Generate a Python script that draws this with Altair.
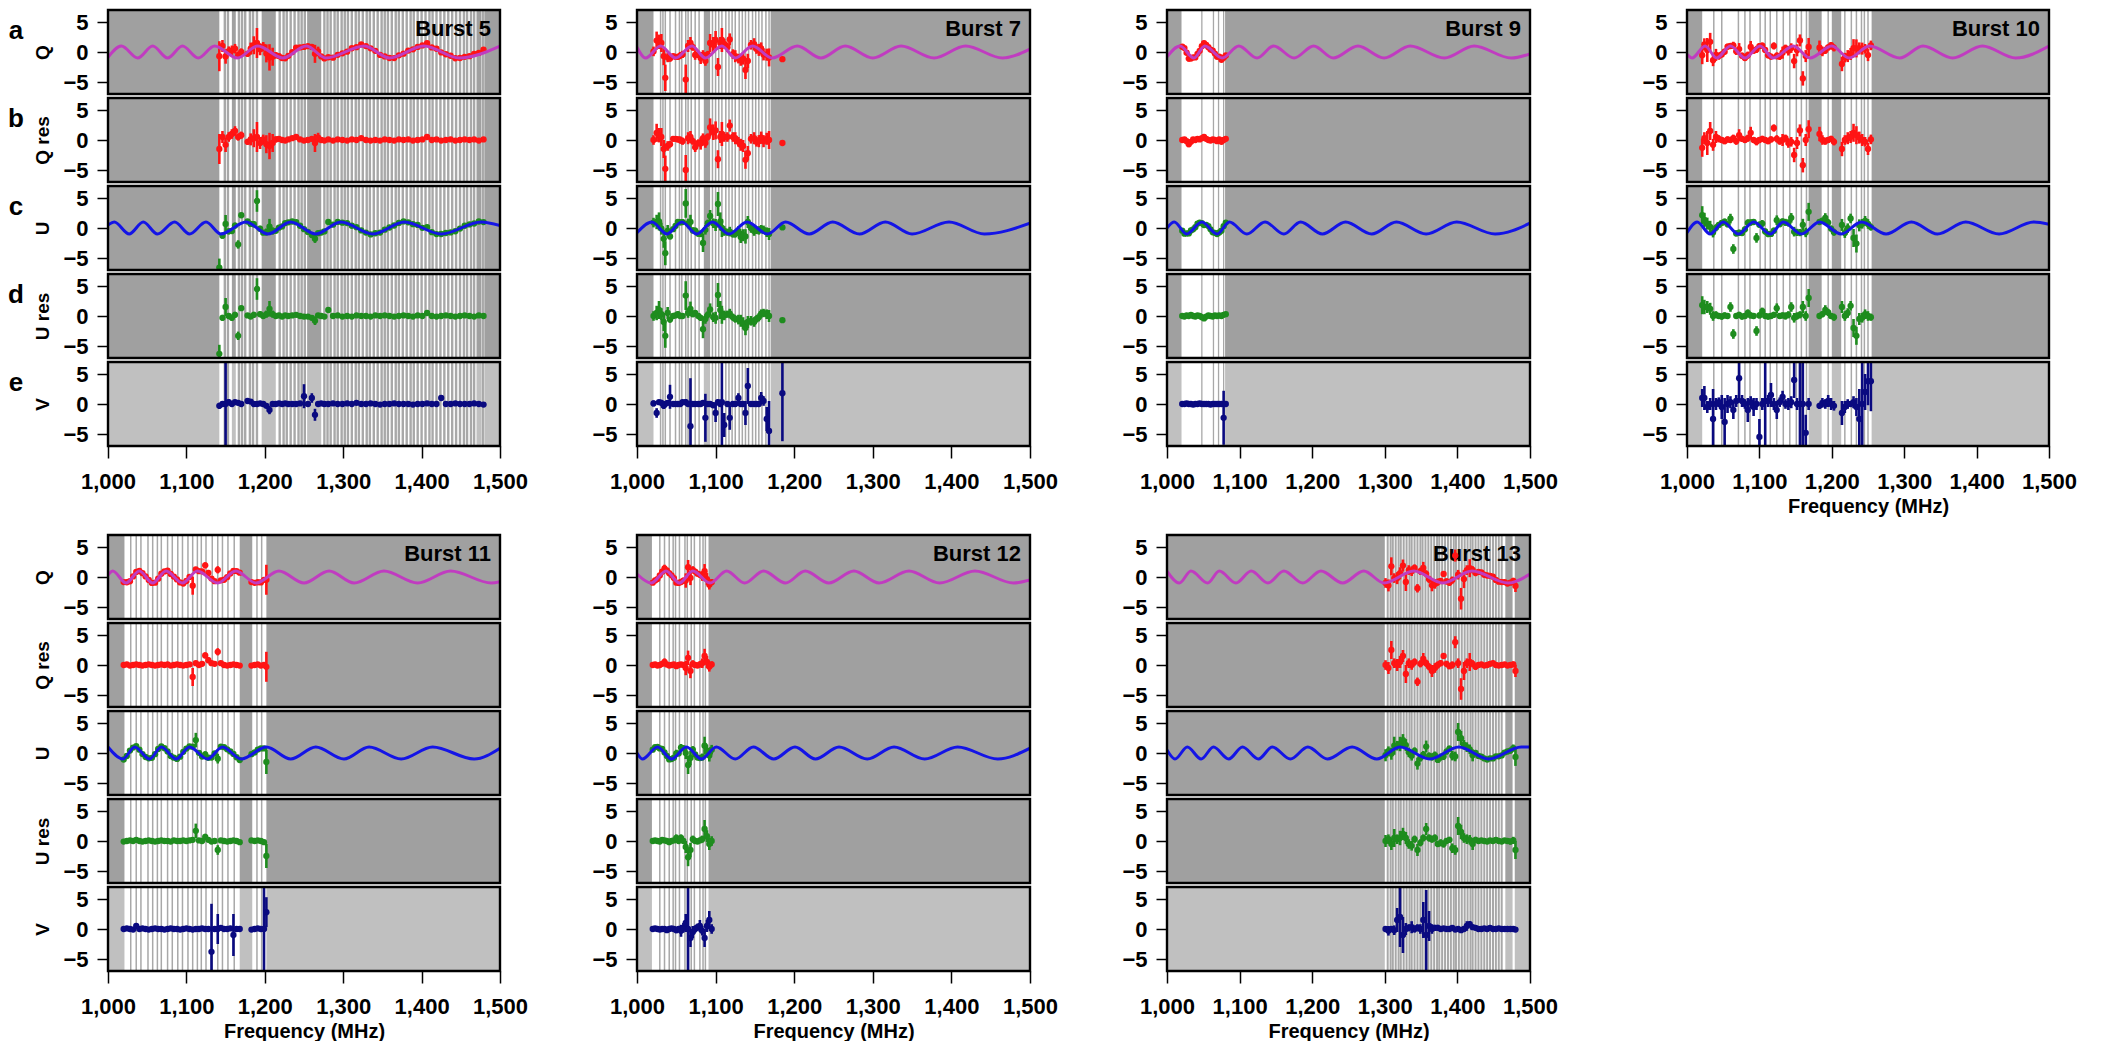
import altair as alt
import pandas as pd

# ---------------- data ----------------
# Burst 5
B5_f = [1142,1146,1150,1154,1158,1162,1166,1170,
        1178,1182,1186,1190,1194,1198,1202,1206,1210,1214,1218,1222,
        1226,1230,1235,1240,1245,1250,1255,1260,1264,1268,1272,1276,
        1281,1287,1293,1299,1305,1311,1317,1323,1329,1335,
        1341,1347,1353,1359,1365,1371,1377,1383,1389,1395,
        1401,1407,1413,1419,1425,1431,1437,1443,1449,1455,
        1461,1467,1473,1479]
B5_Q = [-0.7,1.0,-0.75,0.13,0.28,0.55,-0.5,0.0,
        -0.3,0.56,1.12,1.5,0.46,0.87,-0.23,-0.9,-0.79,-0.54,-0.68,-1.0,
        -1.05,-0.64,-0.01,0.71,0.77,0.85,0.97,0.84,-0.31,0.09,-0.73,-1.07,
        -0.88,-0.94,-0.47,-0.22,0.06,0.62,0.8,1.27,0.98,0.61,
        0.2,-0.48,-0.73,-1.0,-1.01,-0.55,-0.28,0.24,0.44,0.84,
        1.09,1.46,0.77,0.54,-0.07,-0.37,-0.62,-1.04,-1.0,-0.81,
        -0.7,-0.31,-0.16,0.39]
B5_Qres = [-1.5,0.5,-0.8,0.5,1.0,1.5,0.5,0.8,
           -0.3,0.1,0.3,0.5,-0.5,0.1,-0.7,-1.0,-0.5,0.1,0.2,0.0,
           -0.1,0.1,0.3,0.5,0.1,-0.1,0.0,0.2,-0.5,0.4,0.0,-0.1,
           0.1,-0.1,0.1,0.0,-0.1,0.1,0.0,0.3,0.0,-0.1,
           0.0,-0.1,0.1,0.0,-0.1,0.1,0.0,0.1,-0.1,0.0,
           0.1,0.5,0.0,0.1,-0.1,0.0,0.1,-0.1,0.0,0.1,
           0.0,0.1,-0.1,0.1]
B5_eQ = [2.5,1.0,1.2,0.8,0.8,0.8,0.6,0.6,
         0.5,1.0,1.5,2.5,1.0,0.8,1.5,2.2,1.5,0.5,0.4,0.4,
         0.3,0.3,0.3,0.4,0.3,0.3,0.3,0.4,1.5,0.8,0.3,0.3,
         0.3,0.3,0.3,0.3,0.3,0.3,0.3,0.3,0.3,0.3,
         0.3,0.3,0.3,0.3,0.3,0.3,0.3,0.3,0.3,0.3,
         0.3,0.4,0.3,0.3,0.3,0.3,0.3,0.3,0.3,0.3,
         0.3,0.3,0.3,0.3]
B5_U = [-6.6,-1.28,0.67,-0.56,-0.5,0.4,-2.74,2.13,
        1.08,0.68,0.63,4.5,-0.13,-0.78,-0.68,0.22,-0.5,-0.47,0.05,0.27,
        0.82,0.95,1.08,0.97,0.38,-0.2,-0.66,-1.18,-1.79,-0.86,-0.77,-0.57,
        1.0,0.56,1.02,0.89,0.82,0.38,0.14,-0.41,-0.77,-1.07,
        -0.87,-0.76,-0.28,0.08,0.42,0.85,1.1,0.94,0.64,0.52,
        0.03,0.14,-0.7,-1.02,-1.0,-0.83,-0.74,-0.54,-0.09,0.38,
        0.6,0.75,1.08,0.99]
B5_Ures = [-6.3,-0.3,1.5,0.0,-0.3,0.2,-3.3,1.3,
           0.1,-0.1,0.2,4.5,0.3,0.0,0.3,1.2,0.3,0.0,0.1,-0.1,
           0.1,0.0,0.1,0.2,0.0,-0.1,-0.1,-0.3,-0.8,0.1,0.0,-0.1,
           1.0,0.0,0.1,-0.1,0.0,-0.1,0.1,0.0,0.0,-0.1,
           0.1,0.0,0.1,0.0,-0.1,0.0,0.1,0.0,-0.1,0.1,
           0.0,0.5,0.0,-0.1,0.0,0.1,0.0,-0.1,0.0,0.1,
           0.0,-0.1,0.1,0.0]
B5_eU = [1.5,0.5,1.5,0.5,0.5,0.5,0.7,0.4,
         0.4,0.4,0.5,1.8,0.5,0.4,0.6,1.3,0.6,0.4,0.3,0.3,
         0.3,0.3,0.3,0.3,0.3,0.3,0.3,0.4,0.7,0.4,0.3,0.3,
         0.4,0.3,0.3,0.3,0.3,0.3,0.3,0.3,0.3,0.3,
         0.3,0.3,0.3,0.3,0.3,0.3,0.3,0.3,0.3,0.3,
         0.3,0.4,0.3,0.3,0.3,0.3,0.3,0.3,0.3,0.3,
         0.3,0.3,0.3,0.3]
B5_V = [-0.3,0.0,0.0,0.3,0.0,0.3,0.2,0.0,
        0.5,0.4,0.0,0.0,0.1,0.0,-0.3,-1.0,0.0,0.0,0.1,0.0,
        0.1,0.0,0.0,0.0,0.1,1.3,0.0,1.0,-1.8,0.0,0.1,0.0,
        0.0,0.1,0.0,0.0,0.1,0.0,0.2,0.0,0.0,0.1,
        0.0,-0.1,0.0,0.0,0.1,0.0,0.0,0.0,-0.1,0.0,
        0.0,0.1,0.0,0.0,1.0,0.0,0.0,0.1,0.0,0.0,
        0.0,0.1,0.0,-0.1]
B5_eV = [0.5,0.4,8.0,0.5,0.4,0.4,0.4,0.3,
         0.4,0.4,0.3,0.3,0.3,0.3,0.3,0.7,0.3,0.3,0.3,0.3,
         0.3,0.3,0.3,0.3,0.3,2.0,0.3,0.8,1.0,0.3,0.3,0.3,
         0.3,0.3,0.3,0.3,0.3,0.3,0.3,0.3,0.3,0.3,
         0.3,0.3,0.3,0.3,0.3,0.3,0.3,0.3,0.3,0.3,
         0.3,0.3,0.3,0.3,0.4,0.3,0.3,0.3,0.3,0.3,
         0.3,0.3,0.3,0.3]
B5_Qmodel = [(1000,-0.9),(1017,1),(1038,-1),(1057,1),(1076,-1),(1095,1),(1115,-1),(1136,1),(1165,-1),
             (1191,1),(1223,-1),(1253,1),(1278,-1),(1327,1),(1359,-1),(1403,1),(1448,-1),(1500,1)]
B5_Umodel = [(1000,0.5),(1008,1),(1027,-1),(1045,1),(1063,-1),(1085,1),(1104,-1),(1125,1),(1144,-1),
             (1176,1),(1204,-1),(1233,1),(1265,-1),(1297,1),(1338,-1),(1378,1),(1425,-1),(1476,1),(1500,0.4)]
B5_white = [(1142,1480)]
B5_grayband = [(1158,1163),(1196,1214),(1254,1272),(1470,1476)]
B5_grayline = [1149,1153,1167,1171,1175,1181,1185,1190,1219,1224,1228,1233,1238,1243,1247,1251,
               1276,1280,1284,1289,1293,1298,1302,1306,1311,1316,1320,1325,1330,1334,1339,1344,
               1349,1353,1357,1362,1367,1371,1376,1381,1386,1390,1395,1400,1405,1410,1414,1419,
               1424,1429,1434,1439,1444,1449,1454,1458,1463,1467,1478]
B5_linewidth = 2.4

# Burst 7
B7_f = [1021,1025,1028,1031,1034,1036,1039,1042,1046,1049,
        1052,1055,1058,1062,1065,1068,1071,1074,1078,1081,
        1084,1087,1090,1093,1097,1100,1103,1106,1108,1111,
        1115,1118,1122,1125,1129,1132,1135,1138,1141,1145,
        1149,1152,1155,1158,1161,1165,1168,1185]
B7_Q = [0.1,1.9,1.7,1.5,-0.7,-4.3,-0.9,-1.1,-0.7,-0.8,
        -0.8,-0.6,-0.4,-4.6,1.0,1.5,0.8,-0.5,-0.4,-1.0,
        -0.5,-1.5,-0.4,1.5,1.2,2.0,-2.5,1.5,2.0,1.35,
        0.8,2.1,-0.35,-0.7,-1.1,-1.3,-1.1,-3.0,-1.5,1.2,
        1.3,0.5,0.35,0.6,-0.4,-0.45,-0.9,-1.2]
B7_Qres = [0.0,1.2,0.8,0.5,-1.5,-4.8,-1.0,-0.7,0.2,0.2,
           0.1,0.0,-0.2,-5.0,0.3,0.5,-0.2,-1.2,-0.5,-0.6,
           0.3,-0.5,0.5,2.1,1.3,1.6,-3.2,0.5,1.0,0.5,
           0.5,2.4,0.5,0.3,-0.3,-0.8,-1.0,-3.3,-2.2,0.2,
           0.3,-0.3,-0.2,0.4,-0.2,0.2,0.0,-0.5]
B7_eQ = [0.8,1.5,1.2,1.5,1.5,2.2,0.8,0.5,0.4,0.4,
         0.5,0.6,0.6,2.5,1.0,1.0,0.6,0.8,0.6,1.0,
         0.8,0.8,0.6,1.5,1.3,1.5,1.5,1.0,2.0,0.8,
         0.8,1.0,0.8,1.0,0.8,1.0,1.0,1.5,1.2,0.8,
         1.0,0.8,1.0,1.0,1.0,1.0,1.5,0.3]
B7_U = [0.9,1.0,1.1,-0.1,-1.8,-4.2,-0.5,-1.4,-0.2,0.35,
        1.0,0.95,0.99,4.1,0.75,1.0,-0.4,-0.45,-0.95,-1.0,
        -2.5,-0.3,0.8,2.0,0.8,0.5,4.0,1.1,0.0,-0.5,
        -0.7,-0.6,-1.0,-1.0,-0.5,-1.5,-1.2,-1.4,1.0,0.0,
        -0.5,-0.4,-0.4,-0.2,-0.3,-0.7,-1.0,0.1]
B7_Ures = [0.0,0.5,1.0,0.3,-1.0,-3.3,0.5,-0.6,0.0,0.1,
           0.3,0.0,0.0,3.4,0.5,1.2,0.3,0.5,0.0,-0.3,
           -2.2,-0.5,0.2,1.1,-0.2,-0.3,3.5,1.0,0.2,0.1,
           0.3,0.4,-0.2,-0.5,-0.6,-0.8,-1.2,-2.0,-1.0,-0.8,
           -1.0,-0.5,-0.2,0.4,0.5,0.3,0.0,-0.7]
B7_eU = [0.8,1.2,1.5,1.0,1.5,2.0,1.0,0.5,0.4,0.4,
         0.5,0.5,0.5,2.4,0.8,1.2,0.5,0.5,0.5,0.5,
         1.5,0.8,0.6,1.0,0.8,1.0,2.0,1.5,1.5,0.8,
         0.6,0.8,0.6,0.6,0.8,1.0,1.0,1.2,1.0,0.8,
         0.8,0.6,0.7,0.7,0.7,0.8,1.0,0.3]
B7_V = [0.1,-1.5,0.3,0.2,-0.3,0.0,0.2,1.2,0.0,0.0,
        0.0,0.0,0.3,0.3,0.0,-3.7,0.0,0.0,0.0,0.0,
        0.2,-2.3,0.0,0.0,-0.2,-1.5,0.3,0.0,0.3,-3.5,
        0.0,-2.3,0.0,0.0,1.0,0.0,0.0,-1.5,3.0,0.0,
        0.0,0.0,0.0,1.0,0.5,-2.5,-4.5,1.8]
B7_eV = [0.5,0.8,0.4,0.5,0.5,0.5,0.4,2.0,0.3,0.3,
         0.3,0.3,0.4,0.5,0.4,8.0,0.3,0.4,0.4,0.4,
         0.4,4.0,0.4,0.4,0.5,1.5,0.5,0.5,8.0,2.0,
         0.5,2.0,0.5,0.5,0.8,0.5,0.5,2.0,3.0,0.5,
         0.5,0.5,0.5,1.0,0.8,2.0,5.0,8.0]
B7_Qmodel = [(1000,0.8),(1011,-1),(1030,1),(1049,-1),(1070,1),(1087,-1),(1108,1),(1125,-1),(1147,1),
             (1172,-1),(1204,1),(1234,-1),(1265,1),(1300,-1),(1336,1),(1378,-1),(1418,1),(1465,-1),(1500,0.5)]
B7_Umodel = [(1000,-0.8),(1019,1),(1038,-1),(1057,1),(1076,-1),(1096,1),(1117,-1),(1140,1),(1166,-1),
             (1189,1),(1219,-1),(1249,1),(1283,-1),(1316,1),(1350,-1),(1397,1),(1442,-1),(1500,0.8)]
B7_white = [(1021,1170)]
B7_grayband = [(1085,1093)]
B7_grayline = [1030,1033,1036,1042,1049,1054,1057,1062,1065,1069,1074,1079,1096,1100,1104,1108,
               1113,1117,1121,1125,1130,1134,1138,1142,1147,1151,1155,1159,1164,1168]
B7_linewidth = 1.5

# Burst 9
B9_f = [1021,1024,1027,1030,1033,1036,1039,1042,1045,1048,1051,1054,1057,1060,1063,1066,1069,1072,1075,1078,1081]
B9_Q = [0.88,0.65,-0.12,-1.1,-1.09,-0.89,-0.91,-0.3,0.2,0.97,1.48,1.17,0.8,0.4,0.23,-0.26,-0.81,-0.77,-1.29,-0.96,-0.58]
B9_Qres = [0.0,0.1,-0.2,-0.7,-0.3,0.1,0.0,0.2,0.1,0.3,0.5,0.2,0.0,-0.1,0.1,0.0,-0.2,0.1,-0.3,0.0,0.2]
B9_eQ = [0.3,0.3,0.3,0.5,0.3,0.3,0.3,0.3,0.3,0.3,0.4,0.3,0.3,0.3,0.3,0.3,0.3,0.3,0.3,0.3,0.3]
B9_U = [-0.44,-0.95,-0.9,-0.9,-0.42,-0.22,0.12,0.72,0.9,0.8,0.5,0.52,0.32,-0.22,-0.72,-0.8,-1.0,-0.75,-0.44,0.29,0.9]
B9_Ures = [0.0,-0.1,0.1,0.0,0.2,0.0,-0.1,0.1,0.0,-0.2,-0.4,-0.1,0.1,0.0,-0.1,0.1,0.0,0.1,0.0,0.2,0.3]
B9_eU = [0.3,0.3,0.3,0.3,0.3,0.3,0.3,0.3,0.3,0.3,0.3,0.3,0.3,0.3,0.3,0.3,0.3,0.3,0.3,0.3,0.3]
B9_V = [0.0,0.0,0.1,0.0,0.0,-0.1,0.0,0.0,0.1,0.0,0.0,0.0,0.0,-0.1,0.0,0.0,0.0,0.0,0.0,-2.3,0.0]
B9_eV = [0.3,0.3,0.3,0.3,0.3,0.3,0.3,0.3,0.3,0.3,0.3,0.3,0.3,0.3,0.3,0.3,0.3,0.3,0.3,4.5,0.3]
B9_Qmodel = [(1000,-0.8),(1018,1),(1037,-1),(1052,1),(1076,-1),(1099,1),(1124,-1),(1147,1),(1175,-1),
             (1202,1),(1229,-1),(1263,1),(1299,-1),(1335,1),(1382,-1),(1423,1),(1474,-1),(1500,-0.3)]
B9_Umodel = [(1000,0.0),(1010,1),(1027,-1),(1048,1),(1069,-1),(1086,1),(1110,-1),(1135,1),(1161,-1),
             (1184,1),(1214,-1),(1246,1),(1282,-1),(1316,1),(1357,-1),(1399,1),(1452,-1),(1500,0.8)]
B9_white = [(1020,1080)]
B9_grayband = []
B9_grayline = [1048,1064,1071,1078]
B9_linewidth = 1.3

# Burst 10
B10_f = [1021,1024,1028,1032,1036,1040,1044,1048,1052,1056,
         1060,1064,1068,1072,1076,1080,1084,1088,1092,1096,
         1100,1104,1108,1112,1116,1120,1124,1128,1132,1136,
         1140,1144,1148,1152,1156,1160,1164,1168,1183,1187,
         1191,1195,1199,1203,1214,1218,1222,1226,1230,1234,
         1238,1242,1246,1250,1254]
B10_Q = [-0.53,1.28,0.33,1.69,-1.36,-0.48,-0.68,-0.40,0.05,0.89,
         1.0,1.11,0.11,0.49,-0.61,-1.0,-0.53,0.84,0.22,0.43,
         0.99,1.07,0.34,-0.54,-0.77,1.01,-0.65,-0.73,-0.11,0.63,
         0.21,0.65,-1.51,0.28,1.93,-4.4,-0.68,0.84,0.71,0.1,
         0.27,0.77,1.16,0.69,-2.0,-0.94,-0.68,-0.33,0.64,0.6,
         0.6,0.56,0.53,-0.52,1.1]
B10_Qres = [-1.3,0.3,-0.5,1.5,-0.8,0.5,0.2,0.0,-0.2,0.1,
            0.0,0.3,-0.2,0.8,0.2,0.0,0.3,1.2,0.0,-0.3,
            0.0,0.2,0.0,-0.2,0.1,2.0,0.2,-0.2,0.0,0.3,
            -0.5,-0.3,-2.5,-0.5,1.6,-4.2,0.0,1.8,1.0,0.0,
            -0.2,0.0,0.2,-0.3,-1.5,0.0,0.3,0.5,1.2,0.8,
            0.4,0.0,-0.3,-1.5,0.1]
B10_eQ = [1.5,1.0,2.0,1.5,1.0,1.0,0.6,0.5,0.5,0.5,
          0.5,0.6,0.6,1.0,0.5,0.5,0.6,1.0,0.5,0.6,
          0.5,0.5,0.5,0.5,0.5,0.6,0.6,0.6,1.0,0.6,
          0.8,0.8,1.2,1.0,1.0,1.2,1.0,1.5,1.2,0.8,
          0.6,0.5,0.5,0.6,1.2,0.8,1.0,1.0,1.5,1.5,
          1.0,1.0,0.8,1.0,0.8]
B10_U = [2.14,1.33,0.73,0.2,-0.77,0.03,0.5,0.84,1.06,0.62,
         1.57,-3.5,-0.9,-0.79,-0.83,-0.22,0.86,0.92,1.0,-1.65,
         0.56,0.73,-0.58,-1.02,-0.98,-0.44,1.3,0.64,1.08,0.93,
         0.84,1.69,-0.61,-0.73,-0.77,0.53,-0.73,2.69,1.0,1.21,
         1.67,0.91,-0.1,-0.7,0.51,-0.85,-0.03,1.59,-1.67,-2.59,
         0.44,0.7,1.2,0.68,0.16]
B10_Ures = [1.8,1.5,1.5,1.2,0.0,0.2,0.0,-0.1,0.1,0.0,
            1.5,-3.0,0.0,0.2,-0.1,0.0,0.5,0.1,0.0,-2.5,
            0.1,0.8,0.0,-0.1,0.0,0.2,1.3,0.0,0.1,0.0,
            0.2,1.5,-0.3,0.0,0.2,1.5,0.0,3.0,0.0,0.3,
            1.0,0.6,0.0,-0.2,1.5,0.0,0.5,1.7,-2.0,-3.3,
            -0.5,-0.3,0.3,0.0,-0.2]
B10_eU = [1.5,1.2,1.0,1.0,0.8,0.6,0.5,0.5,0.5,0.5,
          0.8,0.8,0.5,0.5,0.5,0.5,0.6,0.5,0.5,0.8,
          0.5,0.6,0.5,0.5,0.5,0.5,0.8,0.5,0.5,0.6,
          0.6,0.8,0.8,0.6,0.6,1.0,0.8,1.5,0.5,0.5,
          0.8,0.6,0.5,0.6,1.0,0.8,0.8,0.8,1.5,1.5,
          1.0,0.8,0.8,0.8,0.6]
B10_V = [1.0,1.0,-0.5,0.0,-2.5,0.0,0.3,-0.5,-3.0,0.0,
         0.3,-1.0,0.5,4.3,0.5,0.0,-1.0,0.3,-0.5,0.0,
         -5.5,0.0,0.5,0.5,1.5,0.0,-1.0,0.3,1.2,0.0,
         0.0,0.3,4.0,0.0,0.0,0.0,-4.8,0.0,-0.3,0.2,
         0.0,0.5,0.0,-0.3,-1.5,-0.5,0.0,0.0,0.3,-0.5,
         -2.5,0.0,2.0,3.8,3.8]
B10_eV = [1.5,2.0,1.0,1.0,5.0,1.0,0.8,2.0,4.0,1.5,
          1.0,1.5,1.0,4.0,1.0,0.8,2.0,1.0,1.5,1.0,
          3.0,1.0,8.0,1.0,2.0,1.0,1.5,0.8,1.0,0.8,
          1.0,1.0,3.0,1.0,8.0,8.0,3.0,1.0,0.5,0.8,
          0.8,1.0,1.0,0.8,2.0,1.0,0.8,0.5,1.0,1.5,
          5.0,8.0,3.0,4.0,5.0]
B10_Qmodel = [(1000,-0.4),(1007,-1),(1025,1),(1041,-1),(1060,1),(1080,-1),(1101,1),(1119,-1),(1147,1),
              (1170,-1),(1200,1),(1224,-1),(1252,1),(1294,-1),(1326,1),(1367,-1),(1408,1),(1454,-1),(1500,1)]
B10_Umodel = [(1000,-0.8),(1014,1),(1032,-1),(1050,1),(1071,-1),(1092,1),(1115,-1),(1133,1),(1158,-1),
              (1183,1),(1213,-1),(1241,1),(1275,-1),(1310,1),(1346,-1),(1385,1),(1431,-1),(1479,1),(1500,0.6)]
B10_white = [(1021,1168),(1186,1200),(1213,1255)]
B10_grayband = []
B10_grayline = [1037,1048,1071,1080,1087,1101,1108,1115,1124,1133,1142,1151,1158,1165,
                1195,1218,1227,1234,1241,1245,1250]
B10_linewidth = 1.5

# Burst 11
B11_f = [1020,1024,1028,1032,1036,1040,1044,1048,1052,1056,
         1060,1064,1068,1072,1076,1080,1084,1088,1092,1096,
         1100,1104,1108,1112,1116,1120,1124,1128,1132,1136,
         1140,1144,1148,1152,1156,1160,1164,1168,1183,1187,
         1191,1195,1199,1202]
B11_Q = [-0.85,-0.88,-0.71,0.09,0.84,1.0,0.64,0.09,-0.5,-0.98,
         -0.95,-0.28,0.54,0.93,1.06,0.52,0.07,-0.4,-0.9,-1.09,
         -0.67,0.02,-1.45,1.25,0.97,0.95,1.95,0.68,-0.27,-0.69,
         1.2,-0.55,-0.46,-0.03,0.58,1.02,0.99,0.72,-0.85,-0.97,
         -0.88,-0.9,-0.47,-0.46]
B11_Qres = [0.0,0.1,-0.1,0.0,0.1,0.0,-0.1,0.0,0.1,0.0,
            -0.1,0.0,0.1,0.0,0.1,-0.1,0.0,0.1,0.0,-0.1,
            0.0,0.1,-2.0,0.3,0.0,0.2,1.6,0.8,0.3,0.2,
            2.2,0.3,0.0,-0.1,0.0,0.1,0.0,-0.1,-0.1,0.0,
            0.1,-0.1,0.0,-0.3]
B11_eQ = [0.3,0.3,0.3,0.3,0.3,0.3,0.3,0.3,0.3,0.3,
          0.3,0.3,0.3,0.3,0.3,0.3,0.3,0.3,0.3,0.3,
          0.3,0.4,1.5,0.4,0.3,0.3,0.5,0.5,0.3,0.3,
          0.6,0.3,0.3,0.3,0.3,0.3,0.3,0.3,0.3,0.3,
          0.3,0.3,0.3,2.5]
B11_U = [-1.08,-0.5,0.41,0.91,1.15,0.55,-0.18,-0.67,-0.89,-0.81,
         -0.2,0.67,1.1,0.79,0.25,-0.5,-0.78,-0.98,-0.61,0.19,
         0.74,1.1,1.05,2.16,0.03,-0.58,-0.22,-0.79,-0.77,-0.08,
         -0.95,1.05,0.97,0.61,0.26,-0.16,-0.71,-1.17,-0.19,0.1,
         0.57,0.77,0.76,-1.5]
B11_Ures = [-0.1,0.0,0.1,0.0,0.2,0.0,-0.1,0.0,0.1,0.0,
            -0.1,0.0,0.1,0.0,0.0,-0.1,0.1,0.0,0.0,0.1,
            0.0,0.1,0.2,1.7,0.1,0.0,0.7,0.2,-0.1,0.0,
            -1.5,0.1,0.0,-0.1,0.0,0.1,0.0,-0.2,0.1,0.0,
            0.1,0.0,-0.2,-2.5]
B11_eU = [0.3,0.3,0.3,0.3,0.3,0.3,0.3,0.3,0.3,0.3,
          0.3,0.3,0.3,0.3,0.3,0.3,0.3,0.3,0.3,0.3,
          0.3,0.3,0.4,1.2,0.3,0.3,0.5,0.3,0.3,0.3,
          0.8,0.3,0.3,0.3,0.3,0.3,0.3,0.3,0.3,0.3,
          0.3,0.3,0.3,2.0]
B11_V = [0.0,0.1,0.0,-0.1,0.5,0.0,0.1,0.0,-0.1,0.0,
         0.1,0.0,0.0,-0.1,0.0,0.1,0.0,0.0,-0.1,0.0,
         0.1,0.0,-0.1,0.0,0.0,0.1,0.0,0.0,-3.8,0.0,
         0.0,0.2,0.0,0.0,0.1,-1.0,0.0,0.0,-0.1,0.0,
         0.1,0.0,0.0,2.8]
B11_eV = [0.3,0.3,0.3,0.3,0.4,0.3,0.3,0.3,0.3,0.3,
          0.3,0.3,0.3,0.3,0.3,0.3,0.3,0.3,0.3,0.3,
          0.3,0.3,0.3,0.3,0.3,0.3,0.3,0.3,8.0,0.3,
          2.5,0.3,0.3,0.3,0.3,3.5,0.3,0.3,0.3,0.3,
          0.3,0.3,8.0,2.5]
B11_Qmodel = [(1000,0.3),(1006,1),(1023,-1),(1040,1),(1057,-1),(1074,1),(1095,-1),(1114,1),(1140,-1),
              (1163,1),(1189,-1),(1218,1),(1250,-1),(1282,1),(1314,-1),(1352,1),(1395,-1),(1437,1),(1489,-1),(1500,-0.8)]
B11_Umodel = [(1000,1),(1019,-1),(1034,1),(1053,-1),(1068,1),(1087,-1),(1104,1),(1127,-1),(1146,1),
              (1170,-1),(1202,1),(1233,-1),(1265,1),(1301,-1),(1333,1),(1374,-1),(1414,1),(1467,-1),(1500,0.8)]
B11_white = [(1021,1168),(1184,1202)]
B11_grayband = []
B11_grayline = [1029,1036,1042,1051,1057,1063,1068,1076,1082,1089,1095,1102,1108,1114,1119,1125,
                1133,1140,1146,1153,1161,1190,1196]
B11_linewidth = 1.5

# Burst 12
B12_f = [1020,1023,1026,1029,1032,1035,1038,1041,1044,1047,1050,1053,1056,1059,1062,1065,1068,
         1071,1074,1077,1080,1083,1086,1089,1092,1095]
B12_Q = [-0.95,-0.57,-0.35,0.25,0.87,1.45,1.08,0.64,0.28,-0.18,-0.94,-0.98,-0.83,-0.61,-0.59,1.64,
         -0.15,1.2,0.91,0.55,0.38,0.16,0.96,-0.34,-1.29,-0.86]
B12_Qres = [0.0,0.1,-0.1,0.0,0.2,0.5,0.1,-0.1,0.0,0.1,-0.2,0.0,0.1,0.0,-0.5,1.2,-1.0,0.2,0.0,-0.1,
            0.1,0.3,1.5,0.5,-0.3,0.1]
B12_eQ = [0.3,0.3,0.3,0.3,0.4,0.6,0.4,0.3,0.3,0.3,0.4,0.3,0.4,0.5,1.2,1.2,1.2,0.6,0.4,0.4,
          0.5,0.8,1.2,1.0,0.8,0.5]
B12_U = [0.55,0.98,1.0,0.77,0.7,0.1,-0.5,-1.07,-1.0,-0.78,-0.05,-0.08,0.9,0.79,-0.01,-2.0,-0.83,
         0.55,-0.25,-0.77,-0.85,-0.69,1.21,0.4,-0.42,0.55]
B12_Ures = [0.0,0.1,0.0,-0.1,0.2,0.1,0.0,-0.2,0.0,0.1,0.5,0.0,0.5,0.0,-1.0,-2.7,-1.5,0.3,0.0,-0.1,
            0.1,0.3,2.0,0.8,-0.5,0.0]
B12_eU = [0.3,0.3,0.3,0.3,0.4,0.4,0.3,0.4,0.3,0.3,0.6,0.4,0.6,0.4,1.0,1.5,1.2,0.6,0.4,0.4,
          0.4,0.6,1.5,1.0,1.0,0.8]
B12_V = [0.0,0.1,0.0,-0.1,0.0,0.0,-0.2,0.0,0.1,0.0,-0.2,0.0,-0.3,0.2,1.0,0.0,-1.5,-0.5,0.0,0.3,
         0.5,-0.3,-1.5,0.5,1.5,0.0]
B12_eV = [0.3,0.3,0.3,0.3,0.3,0.3,0.4,0.3,0.3,0.3,0.5,0.4,1.0,0.8,1.5,8.0,1.5,1.0,0.6,0.6,
          1.0,0.8,1.5,1.0,1.5,0.8]
B12_Qmodel = [(1000,0.5),(1018,-1),(1037,1),(1054,-1),(1071,1),(1093,-1),(1114,1),(1137,-1),(1161,1),
              (1189,-1),(1214,1),(1244,-1),(1276,1),(1308,-1),(1346,1),(1385,-1),(1430,1),(1479,-1),(1500,-0.5)]
B12_Umodel = [(1000,0.0),(1007,-1),(1026,1),(1044,-1),(1063,1),(1082,-1),(1101,1),(1125,-1),(1148,1),
              (1174,-1),(1201,1),(1227,-1),(1257,1),(1293,-1),(1327,1),(1366,-1),(1408,1),(1459,-1),(1500,0.8)]
B12_white = [(1019,1091)]
B12_grayband = []
B12_grayline = [1029,1035,1041,1046,1049,1054,1061,1064,1069,1073,1080,1084,1087]
B12_linewidth = 1.5

# Burst 13
B13_f = [1301,1305,1309,1313,1317,1321,1325,1329,1333,1337,
         1341,1345,1349,1353,1357,1361,1365,1369,1373,1377,
         1381,1385,1389,1393,1397,1401,1405,1409,1413,1417,
         1421,1425,1429,1433,1437,1441,1445,1449,1453,1457,
         1461,1465,1469,1473,1477,1480]
B13_Q = [-0.99,-1.4,1.78,-0.18,-0.19,0.62,1.91,-0.83,1.16,0.97,
         1.5,-1.88,0.96,1.52,0.53,-0.38,-1.38,-1.15,-0.85,-0.67,
         0.5,-0.72,-0.96,-0.52,3.57,0.38,-3.62,-0.35,1.15,1.47,
         1.2,0.65,0.84,0.78,0.38,0.25,0.2,0.05,-0.48,-0.78,
         -0.84,-0.85,-1.1,-0.95,-0.64,-1.5]
B13_Qres = [0.0,-0.5,2.5,0.3,0.0,0.5,1.5,-1.5,0.3,0.0,
            0.5,-2.8,0.2,1.0,0.3,-0.3,-1.0,-0.5,0.0,0.3,
            1.5,0.2,-0.2,0.0,3.8,0.3,-4.0,-1.0,0.3,0.5,
            0.2,-0.3,0.0,0.1,-0.1,0.0,0.2,0.3,0.0,-0.1,
            0.0,0.1,-0.1,0.0,0.1,-1.0]
B13_eQ = [0.8,1.0,1.5,0.8,1.0,1.0,1.0,1.5,0.8,0.8,
          0.6,0.7,0.6,1.0,0.6,0.6,1.0,0.8,0.6,0.5,
          0.5,0.5,0.5,0.6,1.0,0.8,1.8,1.5,0.8,1.5,
          0.6,0.5,0.4,0.4,0.4,0.4,0.4,0.4,0.4,0.4,
          0.4,0.4,0.4,0.4,0.5,1.0]
B13_U = [-0.38,0.3,-0.12,1.21,1.22,1.5,2.15,1.32,0.11,-0.46,
         0.34,-1.77,-0.85,-0.27,1.07,-0.5,-0.67,-0.35,-1.15,-0.68,
         -0.58,0.24,0.72,-0.44,-0.58,3.5,2.47,1.36,0.97,0.61,
         -0.39,0.01,-0.48,-0.62,-0.9,-1.09,-0.89,-0.91,-0.56,-0.56,
         -0.41,0.07,0.25,0.4,0.82,-0.65]
B13_Ures = [0.0,0.3,-0.5,0.5,0.3,0.5,1.2,0.5,-0.5,-0.8,
            0.3,-1.5,-0.3,0.5,2.0,0.5,0.3,0.5,-0.5,-0.3,
            -0.5,0.0,0.2,-1.2,-1.5,2.5,1.5,0.5,0.3,0.2,
            -0.5,0.2,0.0,0.1,0.0,-0.1,0.1,0.0,0.2,0.0,
            -0.1,0.1,0.0,-0.1,0.1,-1.5]
B13_eU = [1.0,0.8,1.0,1.5,0.8,1.2,1.0,1.0,0.8,0.8,
          0.6,1.0,0.6,0.6,1.0,0.6,0.6,0.6,0.5,0.6,
          0.6,0.5,0.5,0.8,0.8,1.5,1.2,0.8,0.8,0.8,
          1.0,0.5,0.4,0.4,0.4,0.4,0.4,0.4,0.4,0.4,
          0.4,0.4,0.4,0.5,0.6,1.5]
B13_V = [0.0,-0.3,0.0,-0.2,1.5,2.0,-1.0,0.0,0.2,0.3,
         0.0,0.2,0.0,1.5,-1.0,0.5,0.0,0.2,0.2,0.0,
         0.1,0.0,0.0,0.2,-0.1,0.0,-0.2,0.0,0.5,0.8,
         0.3,0.2,0.0,0.0,0.1,0.0,0.2,0.0,0.0,0.1,
         0.0,0.0,0.0,0.0,0.0,-0.1]
B13_eV = [0.5,0.8,0.5,0.8,2.0,5.0,3.0,1.0,0.6,1.0,
          0.6,0.6,0.8,3.0,7.5,2.5,0.8,0.5,0.5,0.5,
          0.4,0.5,0.5,0.4,0.4,0.4,0.4,0.5,0.8,0.5,
          0.4,0.4,0.3,0.3,0.3,0.3,0.3,0.3,0.3,0.3,
          0.3,0.3,0.3,0.3,0.3,0.3]
B13_Qmodel = [(1000,1),(1017,-1),(1033,1),(1056,-1),(1072,1),(1095,-1),(1116,1),(1139,-1),(1161,1),
              (1187,-1),(1212,1),(1242,-1),(1271,1),(1299,-1),(1340,1),(1380,-1),(1420,1),(1470,-1),(1500,0.5)]
B13_Umodel = [(1000,0.5),(1011,-1),(1028,1),(1047,-1),(1064,1),(1085,-1),(1104,1),(1126,-1),(1145,1),
              (1170,-1),(1194,1),(1221,-1),(1255,1),(1289,-1),(1321,1),(1362,-1),(1402,1),(1443,-1),(1488,1),(1500,1)]
B13_white = [(1300,1466),(1476,1479)]
B13_grayband = []
B13_grayline = [1304,1308,1311,1315,1319,1322,1326,1330,1334,1337,1341,1345,1349,1352,1356,1360,
                1364,1368,1372,1375,1379,1383,1387,1391,1395,1398,1402,1406,1410,1414,1418,1421,
                1425,1429,1433,1437,1441,1445,1449,1453,1457,1461]
B13_linewidth = 2.0

BURST_IDS = [5, 7, 9, 10, 11, 12, 13]
G = globals()
BURSTS = {}
for b in BURST_IDS:
    BURSTS[b] = {k: G[f"B{b}_{k}"] for k in
                 ["f", "Q", "Qres", "eQ", "U", "Ures", "eU", "V", "eV",
                  "Qmodel", "Umodel", "white", "grayband", "grayline", "linewidth"]}

# ---------------- styling ----------------
FONT = "Liberation Sans"
BG_DARK = "#a0a0a0"
BG_LIGHT = "#c0c0c0"
GRAY_LINE = "#a8a8a8"
C_Q = "#ff1414"
C_QM = "#c03cc0"
C_U = "#1e8c1e"
C_UM = "#1414e6"
C_V = "#0a0a80"
H = 84
XT = [1000, 1100, 1200, 1300, 1400, 1500]
XS = alt.Scale(domain=[1000, 1500], nice=False, zero=False)
YS = alt.Scale(domain=[-7, 7], nice=False, zero=False)


def errdf(f, v, e):
    return pd.DataFrame({"f": f, "v": v,
                         "lo": [a - b for a, b in zip(v, e)],
                         "hi": [a + b for a, b in zip(v, e)]})


def subplot(b, kind, width, ytitle, letter, letter_op, burst_text, xtitle):
    d = BURSTS[b]
    bg = BG_LIGHT if kind == "V" else BG_DARK
    if kind == "V":
        xkw = dict(values=XT, format=",d", tickSize=12, tickWidth=1.5, tickColor="black",
                   labelPadding=13, labelFontSize=22, labelFontWeight="bold", labelColor="black",
                   labelFont=FONT, labelFlush=False, domain=False, grid=False, titleFontSize=20,
                   titleFontWeight="bold", titleColor="black", titleFont=FONT, titlePadding=4)
        xaxis = alt.Axis(title="Frequency (MHz)" if xtitle else None, **xkw)
    else:
        xaxis = None
    ykw = dict(values=[-5, 0, 5], tickSize=11, tickWidth=1.5, tickColor="black",
               labelPadding=9, labelFontSize=22, labelFontWeight="bold", labelColor="black",
               labelFont=FONT, domain=False, grid=False, titleFontSize=19,
               titleFontWeight="bold", titleColor="black", titleFont=FONT, titlePadding=10)
    yaxis = alt.Axis(title=ytitle if ytitle else None, **ykw)

    def X(fld):
        return alt.X(f"{fld}:Q", scale=XS, axis=xaxis)

    def Y(fld):
        return alt.Y(f"{fld}:Q", scale=YS, axis=yaxis)

    layers = []
    full = pd.DataFrame({"a": [1000], "b": [1500]})
    layers.append(alt.Chart(full).mark_rect(color=bg).encode(
        x=X("a"), x2="b", y=alt.value(0), y2=alt.value(H)))
    wb = pd.DataFrame({"a": [w[0] for w in d["white"]], "b": [w[1] for w in d["white"]]})
    layers.append(alt.Chart(wb).mark_rect(color="white").encode(
        x=X("a"), x2="b", y=alt.value(0), y2=alt.value(H)))
    if d["grayband"]:
        gb = pd.DataFrame({"a": [w[0] for w in d["grayband"]], "b": [w[1] for w in d["grayband"]]})
        layers.append(alt.Chart(gb).mark_rect(color=bg).encode(
            x=X("a"), x2="b", y=alt.value(0), y2=alt.value(H)))
    gl = pd.DataFrame({"g": d["grayline"]})
    layers.append(alt.Chart(gl).mark_rule(color=GRAY_LINE, strokeWidth=d["linewidth"]).encode(x=X("g")))

    if burst_text:
        layers.append(alt.Chart(pd.DataFrame({"t": [burst_text]})).mark_text(
            align="right", baseline="middle", fontSize=22, fontWeight="bold", font=FONT,
            color="black").encode(
            x=alt.value(width - 9), y=alt.value(19), text="t:N"))

    if kind in ("Q", "Qres"):
        vals = d["Q"] if kind == "Q" else d["Qres"]
        df = errdf(d["f"], vals, d["eQ"])
        col = C_Q
    elif kind in ("U", "Ures"):
        vals = d["U"] if kind == "U" else d["Ures"]
        df = errdf(d["f"], vals, d["eU"])
        col = C_U
    else:
        df = errdf(d["f"], d["V"], d["eV"])
        col = C_V
    layers.append(alt.Chart(df).mark_rule(color=col, strokeWidth=2.6, clip=True).encode(
        x=X("f"), y=Y("lo"), y2="hi"))
    layers.append(alt.Chart(df).mark_circle(color=col, size=40, opacity=1, clip=True).encode(
        x=X("f"), y=Y("v")))

    if kind in ("Q", "U"):
        mod = d["Qmodel"] if kind == "Q" else d["Umodel"]
        mdf = pd.DataFrame({"f": [m[0] for m in mod], "v": [m[1] for m in mod]})
        layers.append(alt.Chart(mdf).mark_line(
            color=C_QM if kind == "Q" else C_UM, strokeWidth=3,
            interpolate="monotone", clip=True).encode(x=X("f"), y=Y("v")))

    layers.append(alt.Chart(full).mark_rect(fillOpacity=0, stroke="black", strokeWidth=2.4).encode(
        x=X("a"), x2="b", y=alt.value(0), y2=alt.value(H)))

    if letter:
        layers.append(alt.Chart(pd.DataFrame({"t": [letter]})).mark_text(
            align="center", baseline="middle", fontSize=26, fontWeight="bold", font=FONT,
            color="black", opacity=letter_op).encode(
            x=alt.value(-92), y=alt.value(21), text="t:N"))

    return alt.layer(*layers).properties(width=width, height=H)


def burst_panel(b, width, col1, letters_visible, xtitle):
    kinds = ["Q", "Qres", "U", "Ures", "V"]
    titles = ["Q", "Q res", "U", "U res", "V"]
    letters = ["a", "b", "c", "d", "e"]
    subs = []
    for i, k in enumerate(kinds):
        subs.append(subplot(b, k, width,
                            titles[i] if col1 else None,
                            letters[i] if col1 else None,
                            1 if letters_visible else 0,
                            f"Burst {b}" if i == 0 else None,
                            xtitle))
    return alt.vconcat(*subs, spacing=0)


p5 = burst_panel(5, 392, True, True, False)
p7 = burst_panel(7, 393, False, False, False)
p9 = burst_panel(9, 363, False, False, False)
p10 = burst_panel(10, 362, False, False, True)
p11 = burst_panel(11, 392, True, False, True)
p12 = burst_panel(12, 393, False, False, True)
p13 = burst_panel(13, 363, False, False, True)

top = alt.hconcat(alt.hconcat(p5, p7, p9, spacing=63), p10, spacing=83)
bottom = alt.hconcat(p11, p12, p13, spacing=63)
chart = alt.vconcat(top, bottom, spacing=17).properties(
    padding=0, background="white"
).configure(font=FONT).configure_view(stroke=None)

chart.save("out.html", embed_options={"renderer": "svg", "actions": False})
